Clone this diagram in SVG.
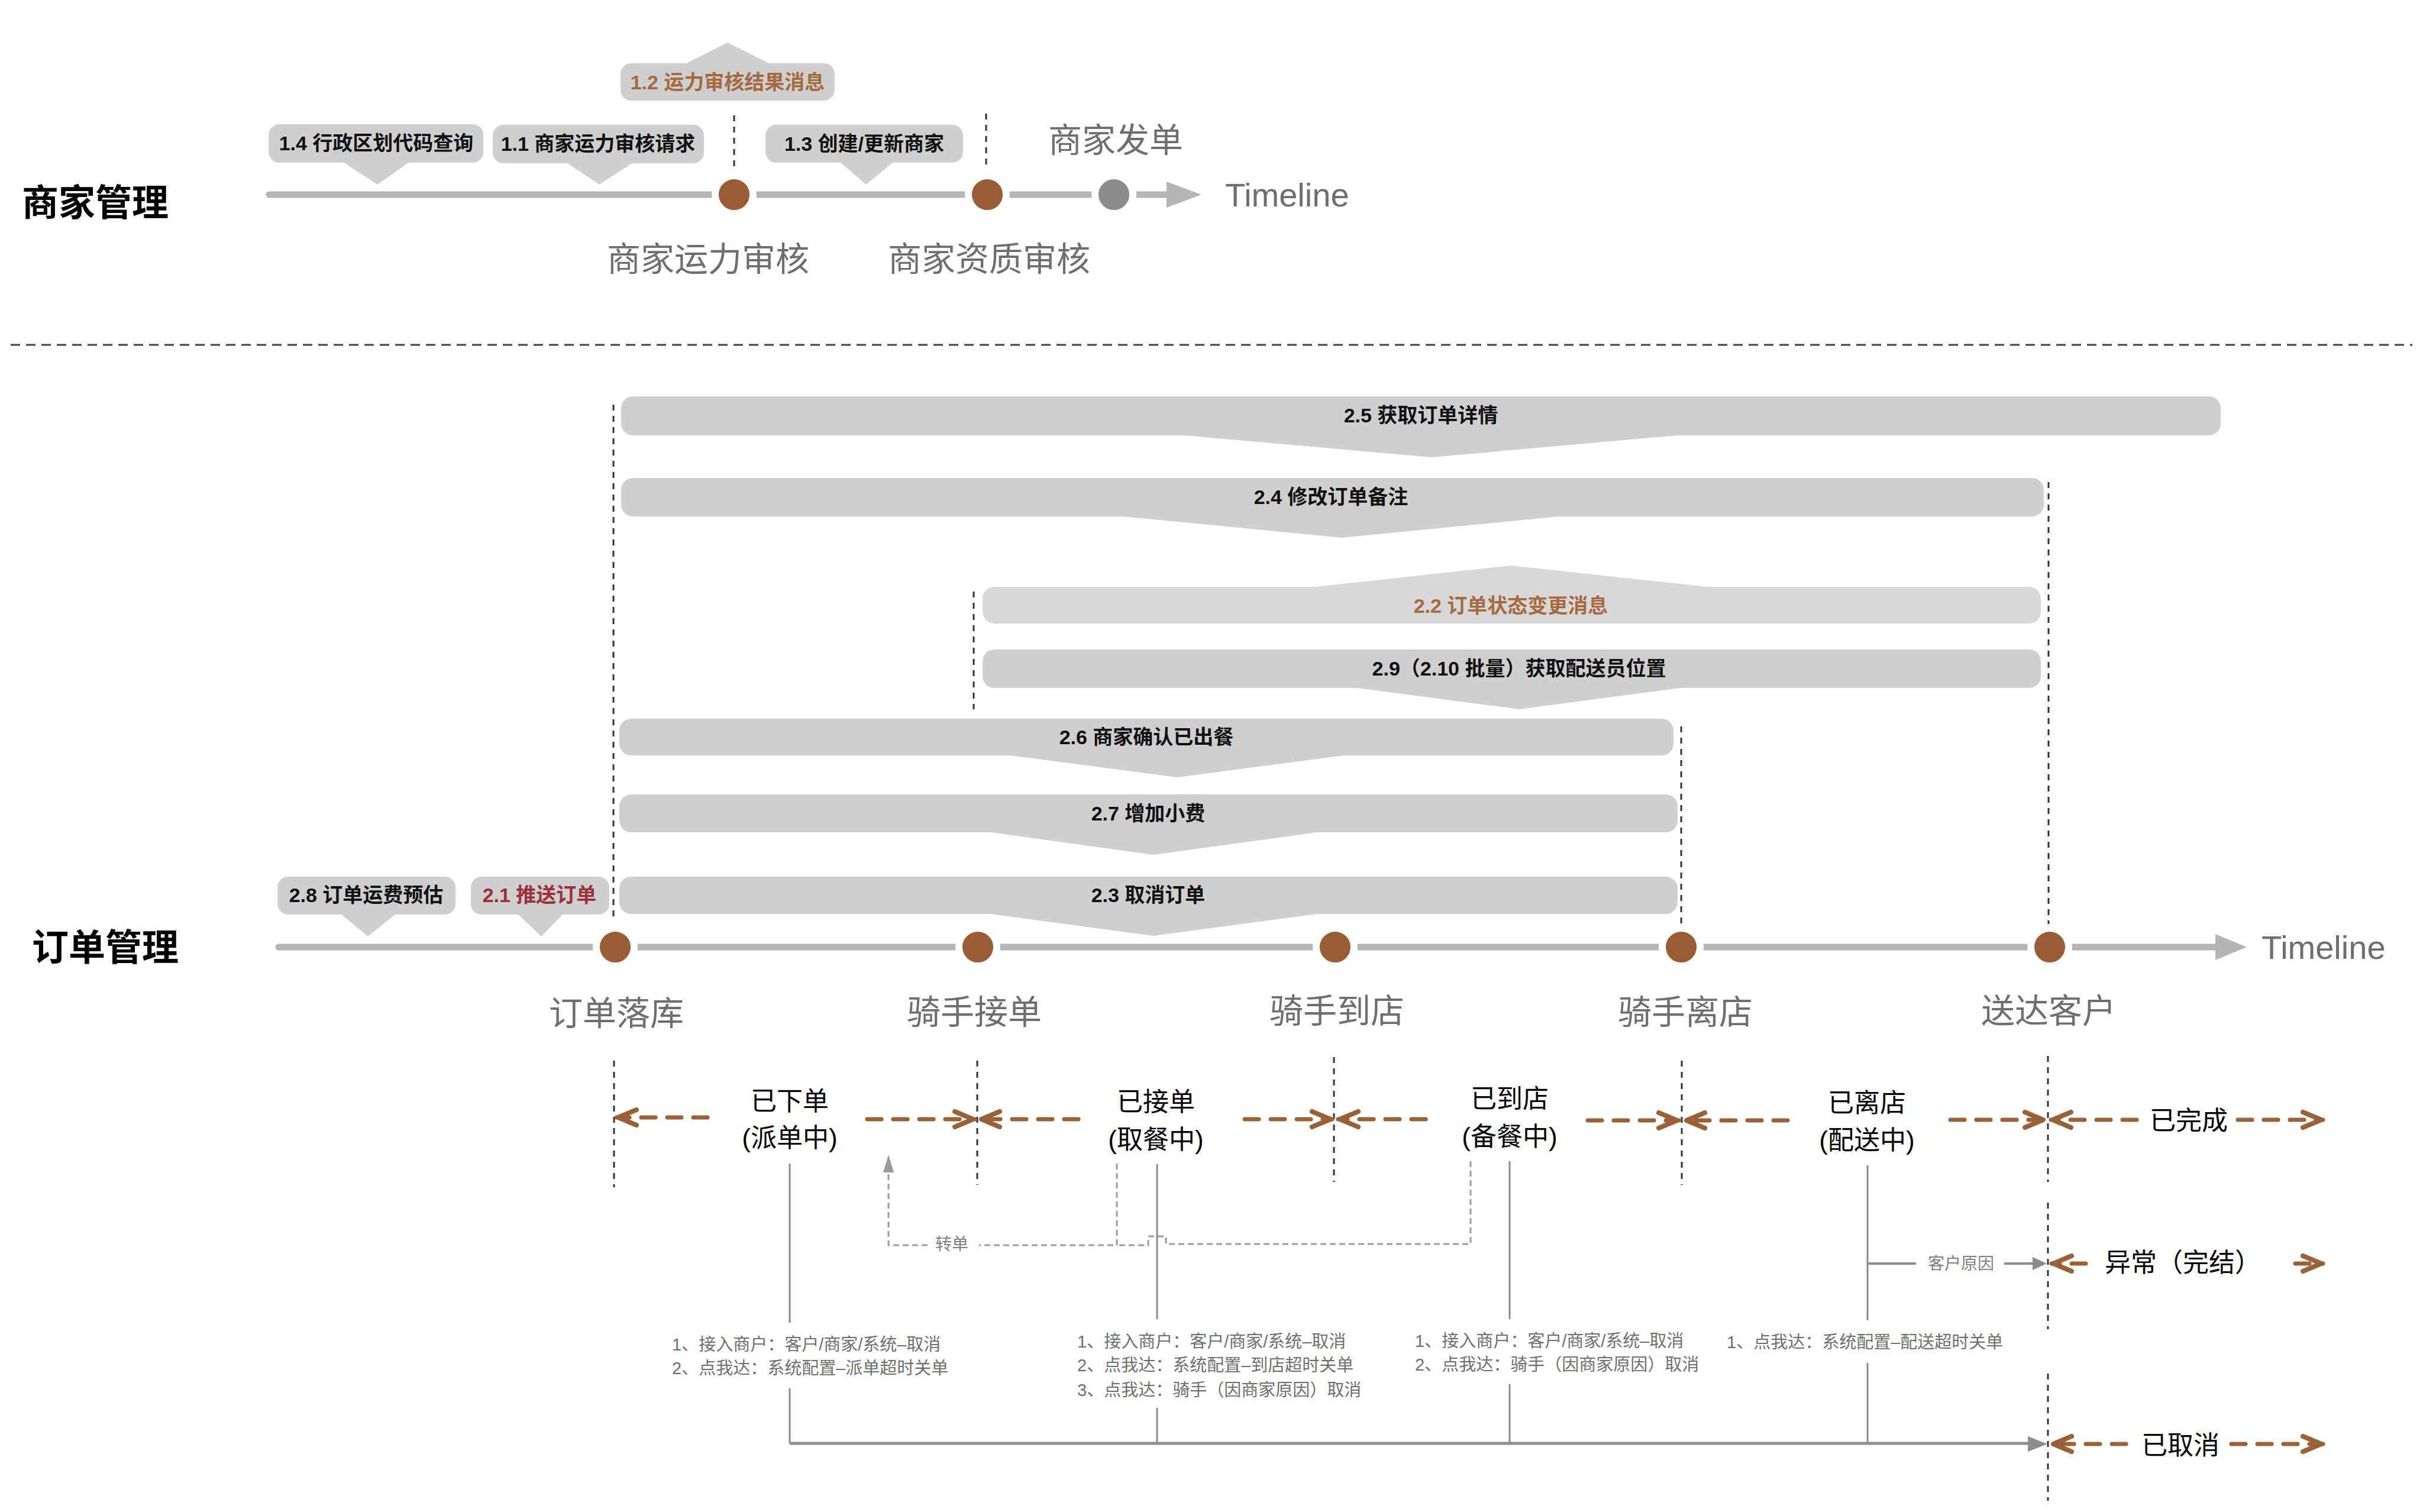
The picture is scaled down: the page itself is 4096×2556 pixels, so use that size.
<svg xmlns="http://www.w3.org/2000/svg" width="4096" height="2556" viewBox="0 0 4096 2556">
<defs>
<style>
text{font-family:"Liberation Sans","Noto Sans CJK SC",sans-serif;}
.title{font-family:"Noto Sans CJK SC",sans-serif;font-weight:bold;font-size:62px;fill:#000;dominant-baseline:central;}
.ms{font-family:"Noto Sans CJK SC",sans-serif;font-size:57px;fill:#6e6e6e;text-anchor:middle;dominant-baseline:central;}
.tl{font-size:56px;fill:#6e6e6e;dominant-baseline:central;}
.cl{font-size:34px;font-weight:bold;fill:#111;text-anchor:middle;dominant-baseline:central;}
.brn{fill:#a66a3f;}
.red{fill:#9b3039;}
.st{font-size:44px;fill:#000;text-anchor:middle;dominant-baseline:central;}
.note{font-size:29px;fill:#6f6f6f;dominant-baseline:central;}
.small{font-size:28px;fill:#808080;text-anchor:middle;dominant-baseline:central;}
.box{fill:#cfcfcf;}
.box2{fill:#d8d8d8;}
.axis{stroke:#b5b5b5;stroke-width:11;fill:none;}
.dot{fill:#9a5c35;stroke:#fff;stroke-width:12;}
.gdot{fill:#8c8c8c;stroke:#fff;stroke-width:12;}
.vd{stroke:#333;stroke-width:3;stroke-dasharray:10 9;fill:none;}
.sep{stroke:#444;stroke-width:3;stroke-dasharray:16 10;fill:none;}
.ba{stroke:#9b6136;stroke-width:7;stroke-dasharray:24 20;stroke-linecap:round;fill:none;marker-end:url(#chev);}
.gl{stroke:#8c8c8c;stroke-width:3;fill:none;}
.gd{stroke:#9a9a9a;stroke-width:3;stroke-dasharray:10 6;fill:none;}
</style>
<marker id="chev" markerUnits="userSpaceOnUse" viewBox="-44 -22 48 44" markerWidth="48" markerHeight="44" refX="0" refY="0" orient="auto" overflow="visible">
<path d="M-34,-13 L-3,0 L-34,13" fill="none" stroke="#9b6136" stroke-width="8" stroke-linecap="round" stroke-linejoin="round"/>
</marker>
</defs>
<rect width="4096" height="2556" fill="#fff"/>

<!-- ===== Merchant section ===== -->
<text class="title" x="37" y="338">商家管理</text>

<g id="merchant-axis">
<line class="axis" x1="455" y1="329" x2="1980" y2="329" stroke-linecap="round"/>
<polygon points="1972,307 2031,329 1972,351" fill="#b5b5b5"/>
<text class="tl" x="2071" y="329">Timeline</text>
</g>

<g id="merchant-callouts">
<g id="c14"><rect class="box" x="454" y="210" width="363" height="65" rx="18"/><polygon class="box" points="580,274 692,274 638,312"/><text class="cl" x="636" y="242">1.4 行政区划代码查询</text></g>
<g id="c11"><rect class="box" x="833" y="211" width="357" height="65" rx="18"/><polygon class="box" points="958,275 1070,275 1013,312"/><text class="cl" x="1011" y="243">1.1 商家运力审核请求</text></g>
<g id="c13"><rect class="box" x="1294" y="211" width="334" height="64" rx="18"/><polygon class="box" points="1420,274 1510,274 1464,312"/><text class="cl" x="1461" y="243">1.3 创建/更新商家</text></g>
<g id="c12"><rect class="box" x="1049" y="107" width="362" height="63" rx="18"/><polygon class="box" points="1158,108 1302,108 1230,72"/><text class="cl brn" x="1230" y="139">1.2 运力审核结果消息</text></g>
</g>

<g id="merchant-markers">
<line class="vd" x1="1241" y1="195" x2="1241" y2="288"/>
<line class="vd" x1="1667" y1="192" x2="1667" y2="285"/>
<circle id="m-cap" class="dot" cx="1241" cy="329" r="32"/>
<circle id="m-qual" class="dot" cx="1669" cy="329" r="32"/>
<circle id="m-send" class="gdot" cx="1883" cy="329" r="32"/>
<text class="ms" x="1197" y="433">商家运力审核</text>
<text class="ms" x="1672" y="433">商家资质审核</text>
<text class="ms" x="1886" y="232">商家发单</text>
</g>

<line class="sep" x1="18" y1="583" x2="4078" y2="583"/>

<!-- ===== Order section ===== -->
<text class="title" x="54" y="1597">订单管理</text>

<g id="order-guides">
<line class="vd" x1="1037" y1="684" x2="1037" y2="1556"/>
<line class="vd" x1="1646" y1="1000" x2="1646" y2="1199"/>
<line class="vd" x1="2842" y1="1228" x2="2842" y2="1562"/>
<line class="vd" x1="3463" y1="815" x2="3463" y2="1562"/>
<line class="vd" x1="1038" y1="1793" x2="1038" y2="2007"/>
<line class="vd" x1="1652" y1="1793" x2="1652" y2="2003"/>
<line class="vd" x1="2255" y1="1787" x2="2255" y2="1998"/>
<line class="vd" x1="2843" y1="1793" x2="2843" y2="2003"/>
<line class="vd" x1="3462" y1="1785" x2="3462" y2="1998"/>
<line class="vd" x1="3462" y1="2033" x2="3462" y2="2247"/>
<line class="vd" x1="3462" y1="2322" x2="3462" y2="2537"/>
</g>

<g id="bands">
<g id="b25"><rect class="box" x="1050" y="670" width="2704" height="66" rx="20"/><polygon class="box" points="1991,735 2848,735 2420,773"/><text class="cl" x="2402" y="702">2.5 获取订单详情</text></g>
<g id="b24"><rect class="box" x="1050" y="808" width="2405" height="65" rx="20"/><polygon class="box" points="1887,872 2646,872 2268,909"/><text class="cl" x="2250" y="840">2.4 修改订单备注</text></g>
<g id="b22"><rect class="box2" x="1661" y="992" width="1789" height="62" rx="20"/><polygon class="box2" points="2214,993 2896,993 2554,956"/><text class="cl brn" x="2554" y="1024">2.2 订单状态变更消息</text></g>
<g id="b29"><rect class="box" x="1661" y="1098" width="1789" height="65" rx="20"/><polygon class="box" points="2286,1162 2848,1162 2568,1199"/><text class="cl" x="2568" y="1130">2.9（2.10 批量）获取配送员位置</text></g>
<g id="b26"><rect class="box" x="1047" y="1215" width="1782" height="62" rx="20"/><polygon class="box" points="1700,1276 2280,1276 1990,1314"/><text class="cl" x="1938" y="1246">2.6 商家确认已出餐</text></g>
<g id="b27"><rect class="box" x="1047" y="1343" width="1789" height="64" rx="20"/><polygon class="box" points="1667,1406 2234,1406 1950,1445"/><text class="cl" x="1941" y="1375">2.7 增加小费</text></g>
<g id="b23"><rect class="box" x="1047" y="1482" width="1789" height="63" rx="20"/><polygon class="box" points="1667,1544 2234,1544 1950,1582"/><text class="cl" x="1941" y="1513">2.3 取消订单</text></g>
</g>

<g id="order-callouts">
<g id="c28"><rect class="box" x="469" y="1482" width="301" height="64" rx="18"/><polygon class="box" points="576,1545 669,1545 622,1583"/><text class="cl" x="619" y="1513">2.8 订单运费预估</text></g>
<g id="c21"><rect class="box" x="796" y="1482" width="234" height="64" rx="18"/><polygon class="box" points="875,1545 952,1545 915,1583"/><text class="cl red" x="912" y="1513">2.1 推送订单</text></g>
</g>

<g id="order-axis">
<line class="axis" x1="471" y1="1601" x2="3750" y2="1601" stroke-linecap="round"/>
<polygon points="3745,1579 3798,1601 3745,1623" fill="#b5b5b5"/>
<text class="tl" x="3823" y="1601">Timeline</text>
<circle class="dot" cx="1040" cy="1601" r="32"/>
<circle class="dot" cx="1653" cy="1601" r="32"/>
<circle class="dot" cx="2257" cy="1601" r="32"/>
<circle class="dot" cx="2842" cy="1601" r="32"/>
<circle class="dot" cx="3465" cy="1601" r="32"/>
<text class="ms" x="1042" y="1708">订单落库</text>
<text class="ms" x="1647" y="1706">骑手接单</text>
<text class="ms" x="2260" y="1704">骑手到店</text>
<text class="ms" x="2849" y="1706">骑手离店</text>
<text class="ms" x="3463" y="1704">送达客户</text>
</g>

<!-- ===== States ===== -->
<g id="s-placed"><text class="st" x="1335" y="1861">已下单</text><text class="st" x="1335" y="1923">(派单中)</text></g>
<g id="s-accepted"><text class="st" x="1954" y="1862">已接单</text><text class="st" x="1954" y="1926">(取餐中)</text></g>
<g id="s-arrived"><text class="st" x="2552" y="1857">已到店</text><text class="st" x="2552" y="1921">(备餐中)</text></g>
<g id="s-left"><text class="st" x="3156" y="1864">已离店</text><text class="st" x="3156" y="1927">(配送中)</text></g>
<g id="s-done"><text class="st" x="3700" y="1894">已完成</text></g>
<g id="s-abn"><text class="st" x="3690" y="2134">异常（完结）</text></g>
<g id="s-cancel"><text class="st" x="3686" y="2443">已取消</text></g>

<g id="notes">
<text class="note" x="1136" y="2273">1、接入商户：客户/商家/系统–取消</text>
<text class="note" x="1136" y="2313">2、点我达：系统配置–派单超时关单</text>
<text class="note" x="1821" y="2268">1、接入商户：客户/商家/系统–取消</text>
<text class="note" x="1821" y="2308">2、点我达：系统配置–到店超时关单</text>
<text class="note" x="1821" y="2350">3、点我达：骑手（因商家原因）取消</text>
<text class="note" x="2392" y="2267">1、接入商户：客户/商家/系统–取消</text>
<text class="note" x="2392" y="2307">2、点我达：骑手（因商家原因）取消</text>
<text class="note" x="2919" y="2269">1、点我达：系统配置–配送超时关单</text>
</g>

<g id="connectors">
<!-- state arrows -->
<path class="ba" d="M1196,1889 L1042,1889"/>
<path class="ba" d="M1466,1892 L1648,1892"/>
<path class="ba" d="M1823,1892 L1656,1892"/>
<path class="ba" d="M2104,1892 L2252,1892"/>
<path class="ba" d="M2410,1892 L2262,1892"/>
<path class="ba" d="M2684,1894 L2838,1894"/>
<path class="ba" d="M3022,1894 L2848,1894"/>
<path class="ba" d="M3297,1893 L3457,1893"/>
<path class="ba" d="M3612,1893 L3467,1893"/>
<path class="ba" d="M3783,1893 L3927,1893"/>
<path class="ba" d="M3526,2136 L3468,2136"/>
<path class="ba" d="M3880,2136 L3927,2136"/>
<path class="ba" d="M3594,2441 L3468,2441"/>
<path class="ba" d="M3772,2441 L3927,2441"/>
<!-- cancel lines -->
<path class="gl" d="M1335,1967 V2236 M1335,2347 V2440"/>
<path class="gl" d="M1956,1968 V2230 M1956,2380 V2440"/>
<path class="gl" d="M2552,1963 V2230 M2552,2340 V2440"/>
<path class="gl" d="M3157,1970 V2232 M3157,2304 V2440"/>
<line x1="1335" y1="2440" x2="3432" y2="2440" stroke="#8c8c8c" stroke-width="5"/>
<polygon points="3428,2428 3461,2441 3428,2454" fill="#8c8c8c"/>
<!-- customer reason -->
<line x1="3157" y1="2136" x2="3239" y2="2136" stroke="#8c8c8c" stroke-width="4"/>
<text class="small" x="3315" y="2136">客户原因</text>
<line x1="3388" y1="2136" x2="3440" y2="2136" stroke="#8c8c8c" stroke-width="4"/>
<polygon points="3436,2125 3460,2136 3436,2147" fill="#8c8c8c"/>
<!-- transfer -->
<path class="gd" d="M1888,1967 V2105 H1655"/>
<path class="gd" d="M1568,2105 H1502 V1980"/>
<polygon points="1493,1982 1502,1952 1511,1982" fill="#9a9a9a"/>
<path class="gd" d="M2486,1963 V2103 H1971 V2090 H1941 V2105 H1888"/>
<text class="small" x="1609" y="2103">转单</text>
</g>
</svg>
